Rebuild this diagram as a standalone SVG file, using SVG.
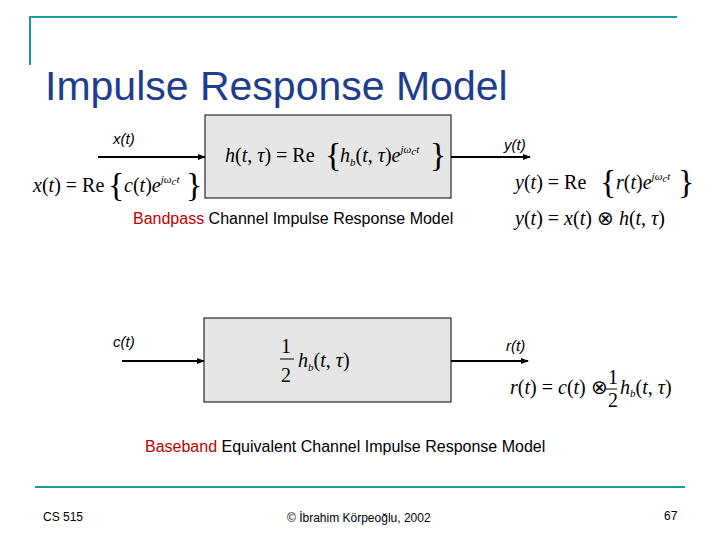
<svg xmlns="http://www.w3.org/2000/svg" width="720" height="540" viewBox="0 0 720 540">
<style>
.ln{stroke:#1a9a9a;stroke-width:2;fill:none}
.box{fill:#e6e6e6;stroke:#000;stroke-width:1}
.lab{font-family:"Liberation Sans",Arial,sans-serif;font-size:15px;font-style:italic;fill:#000}
.cap{font-family:"Liberation Sans",Arial,sans-serif;font-size:16px;fill:#000}
.m{font-family:"Liberation Serif","Times New Roman",serif;font-size:20px;fill:#000}
.i{font-style:italic}
.s{font-size:11px;font-style:italic}
.br{font-family:"Liberation Serif",serif;font-size:34px;font-weight:100;fill:#000}
.ft{font-family:"Liberation Sans",Arial,sans-serif;font-size:12px;fill:#000}
.w{stroke:#000;stroke-width:2;fill:none}
</style>
<defs><marker id="a" markerWidth="8" markerHeight="8" refX="7" refY="4" orient="auto" markerUnits="userSpaceOnUse"><path d="M0,1 L8,4 L0,7 z" fill="#000"/></marker></defs>
<path class="ln" d="M677,17 H30 V65"/>
<path class="ln" d="M35,487 H685"/>
<text x="45" y="100" font-family="'Liberation Sans',Arial,sans-serif" font-size="41" fill="#1f3d8f">Impulse Response Model</text>
<g id="conn">
<line class="w" x1="98" y1="157" x2="205" y2="157" marker-end="url(#a)"/>
<line class="w" x1="451" y1="157" x2="530" y2="157" marker-end="url(#a)"/>
<line class="w" x1="122" y1="361" x2="204" y2="361" marker-end="url(#a)"/>
<line class="w" x1="451" y1="361" x2="528" y2="361" marker-end="url(#a)"/>
</g>
<g id="bp">
<rect class="box" x="205" y="115" width="246" height="83"/>
<text class="m" x="225" y="162"><tspan class="i">h</tspan>(<tspan class="i">t</tspan>, <tspan class="i">τ</tspan>) = Re</text>
<text class="br" x="325" y="166">{</text>
<text class="m" x="340" y="162"><tspan class="i">h</tspan><tspan class="s" dy="4">b</tspan><tspan dy="-4">(</tspan><tspan class="i">t</tspan>, <tspan class="i">τ</tspan>)<tspan class="i">e</tspan><tspan class="s" dy="-9">jω</tspan><tspan class="s" font-size="7" dy="2">c</tspan><tspan class="s" dy="-2">t</tspan></text>
<text class="br" x="430" y="166">}</text>
</g>
<g id="bb">
<rect class="box" x="204" y="318" width="247" height="84"/>
<text class="m" x="281" y="353">1</text>
<line x1="280" y1="359" x2="294" y2="359" stroke="#000" stroke-width="1"/>
<text class="m" x="281" y="382">2</text>
<text class="m" x="298" y="367"><tspan class="i">h</tspan><tspan class="s" dy="4">b</tspan><tspan dy="-4">(</tspan><tspan class="i">t</tspan>, <tspan class="i">τ</tspan>)</text>
</g>
<text class="lab" x="113" y="144">x(t)</text>
<text class="lab" x="504" y="150">y(t)</text>
<text class="lab" x="113" y="347">c(t)</text>
<text class="lab" x="506" y="351">r(t)</text>
<text class="m" x="33" y="192"><tspan class="i">x</tspan>(<tspan class="i">t</tspan>) = Re</text>
<text class="br" x="108" y="196">{</text>
<text class="m" x="124" y="192"><tspan class="i">c</tspan>(<tspan class="i">t</tspan>)<tspan class="i">e</tspan><tspan class="s" dy="-9">jω</tspan><tspan class="s" font-size="7" dy="2">c</tspan><tspan class="s" dy="-2">t</tspan></text>
<text class="br" x="186" y="196">}</text>
<text class="m" x="515" y="189"><tspan class="i">y</tspan>(<tspan class="i">t</tspan>) = Re</text>
<text class="br" x="600" y="193">{</text>
<text class="m" x="616" y="189"><tspan class="i">r</tspan>(<tspan class="i">t</tspan>)<tspan class="i">e</tspan><tspan class="s" dy="-9">jω</tspan><tspan class="s" font-size="7" dy="2">c</tspan><tspan class="s" dy="-2">t</tspan></text>
<text class="br" x="678" y="193">}</text>
<text class="m" x="515" y="225"><tspan class="i">y</tspan>(<tspan class="i">t</tspan>) = <tspan class="i">x</tspan>(<tspan class="i">t</tspan>) ⊗ <tspan class="i">h</tspan>(<tspan class="i">t</tspan>, <tspan class="i">τ</tspan>)</text>
<text class="cap" x="133" y="224"><tspan fill="#c00000">Bandpass</tspan> Channel Impulse Response Model</text>
<text class="m" x="510" y="394" font-size="17"><tspan class="i">r</tspan>(<tspan class="i">t</tspan>) = <tspan class="i">c</tspan>(<tspan class="i">t</tspan>) ⊗</text>
<text class="m" x="608" y="384" font-size="16">1</text>
<line x1="606" y1="389" x2="617" y2="389" stroke="#000" stroke-width="1"/>
<text class="m" x="608" y="407" font-size="16">2</text>
<text class="m" x="620" y="394" font-size="17"><tspan class="i">h</tspan><tspan class="s" dy="3">b</tspan><tspan dy="-3">(</tspan><tspan class="i">t</tspan>, <tspan class="i">τ</tspan>)</text>
<text class="cap" x="145" y="452"><tspan fill="#c00000">Baseband</tspan> Equivalent Channel Impulse Response Model</text>
<text class="ft" x="43" y="521">CS 515</text>
<text class="ft" x="287" y="522">© İbrahim Körpeoğlu, 2002</text>
<text class="ft" x="664" y="520">67</text>
</svg>
